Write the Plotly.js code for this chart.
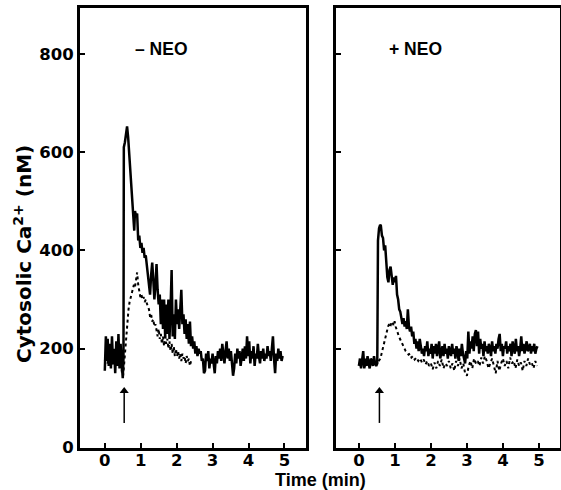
<!DOCTYPE html>
<html>
<head>
<meta charset="utf-8">
<script src="https://cdn.plot.ly/plotly-3.0.1.min.js"></script>
<style>html,body{margin:0;padding:0;background:#fff;}#chart{width:561px;height:490px;}</style>
</head>
<body>
<div id="chart"></div>
<script>
// ---- Data (time in min, cytosolic Ca2+ in nM) ----
const xTicks = [0, 1, 2, 3, 4, 5];
const yTicks = [0, 200, 400, 600, 800];
const panelLabels = ["\u2013 NEO", "+ NEO"];
const yTitle = "Cytosolic Ca<sup>2+</sup> (nM)";
const xTitle = "Time (min)";
const arrowTime = [0.54, 0.57];
const arrowFrom = [49, 49];
const arrowTo = [114, 114];

// -NEO, solid trace
const minusSolidT = [
 0.00,0.03,0.06,0.08,0.11,0.14,0.17,0.20,0.23,0.26,
 0.29,0.32,0.35,0.38,0.41,0.44,0.47,0.50,0.52,0.53,
 0.56,0.60,0.62,0.65,0.68,0.71,0.74,0.77,0.80,0.82,
 0.84,0.87,0.90,0.93,0.96,0.99,1.02,1.05,1.08,1.11,
 1.14,1.17,1.20,1.23,1.26,1.29,1.32,1.35,1.38,1.41,
 1.44,1.47,1.50,1.53,1.56,1.59,1.62,1.65,1.68,1.71,
 1.74,1.77,1.80,1.83,1.86,1.89,1.92,1.95,1.98,2.01,
 2.04,2.07,2.10,2.13,2.16,2.19,2.22,2.25,2.28,2.31,
 2.34,2.37,2.40,2.43,2.46,2.49,2.52,2.55,2.58,2.61,
 2.64,2.67,2.70,2.73,2.76,2.79,2.82,2.85,2.88,2.91,
 2.94,2.97,3.00,3.03,3.06,3.09,3.12,3.15,3.18,3.21,
 3.24,3.27,3.30,3.33,3.36,3.39,3.42,3.45,3.48,3.51,
 3.54,3.57,3.60,3.63,3.66,3.69,3.72,3.75,3.78,3.81,
 3.84,3.87,3.90,3.93,3.96,3.99,4.02,4.05,4.08,4.11,
 4.14,4.17,4.20,4.23,4.26,4.29,4.32,4.35,4.38,4.41,
 4.44,4.47,4.50,4.53,4.56,4.59,4.62,4.65,4.68,4.71,
 4.74,4.77,4.80,4.83,4.86,4.89,4.92,4.95];
const minusSolidV = [
 155,225,175,220,165,210,160,225,170,200,
 150,215,165,230,160,210,170,140,180,610,
 620,645,652,630,600,570,520,510,470,440,
 480,470,475,420,430,405,415,395,405,385,
 390,370,355,330,310,350,375,340,300,330,
 372,320,290,310,250,300,240,300,225,290,
 230,300,220,280,360,225,270,220,300,250,
 280,240,290,320,250,270,230,260,220,250,
 210,255,205,225,200,215,190,205,185,200,
 190,195,175,180,150,155,190,175,195,160,
 180,170,190,165,150,185,170,195,180,200,
 175,210,185,170,195,215,180,200,175,195,
 170,145,160,190,170,200,180,195,165,185,
 200,175,205,180,225,185,215,170,195,180,
 205,165,190,180,210,185,170,195,180,200,
 175,190,180,205,185,195,175,200,225,180,
 150,190,175,200,180,195,175,185];

// -NEO, dotted trace
const minusDotT = [
 0.00,0.04,0.08,0.12,0.16,0.20,0.24,0.28,0.32,0.36,
 0.40,0.44,0.48,0.51,0.54,0.57,0.60,0.63,0.66,0.69,
 0.72,0.75,0.78,0.81,0.84,0.87,0.90,0.93,0.96,0.99,
 1.02,1.05,1.08,1.11,1.14,1.17,1.20,1.23,1.26,1.29,
 1.32,1.35,1.38,1.41,1.44,1.47,1.50,1.53,1.56,1.59,
 1.62,1.65,1.68,1.71,1.74,1.77,1.80,1.83,1.86,1.89,
 1.92,1.95,1.98,2.01,2.04,2.07,2.10,2.13,2.16,2.19,
 2.22,2.25,2.28,2.31,2.34,2.37,2.40];
const minusDotV = [
 175,185,170,190,175,180,165,185,170,180,
 165,175,150,145,170,200,230,260,280,295,
 305,315,320,330,325,340,355,330,315,305,
 310,300,305,295,300,290,285,280,265,270,
 255,260,245,250,235,225,240,220,230,210,
 225,205,230,210,220,200,215,195,210,190,
 205,185,200,185,195,180,190,175,190,180,
 185,170,185,175,180,165,175];

// +NEO, solid trace
const plusSolidT = [
 0.00,0.03,0.06,0.09,0.12,0.15,0.18,0.21,0.24,0.27,
 0.30,0.33,0.36,0.39,0.42,0.45,0.48,0.51,0.53,0.56,
 0.59,0.61,0.64,0.67,0.70,0.73,0.76,0.79,0.82,0.85,
 0.88,0.91,0.94,0.97,1.00,1.03,1.06,1.09,1.12,1.15,
 1.18,1.21,1.24,1.27,1.30,1.33,1.36,1.39,1.42,1.45,
 1.48,1.51,1.54,1.57,1.60,1.63,1.66,1.69,1.72,1.75,
 1.78,1.81,1.84,1.87,1.90,1.93,1.96,1.99,2.02,2.05,
 2.08,2.11,2.14,2.17,2.20,2.23,2.26,2.29,2.32,2.35,
 2.38,2.41,2.44,2.47,2.50,2.53,2.56,2.59,2.62,2.65,
 2.68,2.71,2.74,2.77,2.80,2.83,2.86,2.89,2.92,2.95,
 2.98,3.01,3.04,3.07,3.10,3.13,3.16,3.19,3.22,3.25,
 3.28,3.31,3.34,3.37,3.40,3.43,3.46,3.49,3.52,3.55,
 3.58,3.61,3.64,3.67,3.70,3.73,3.76,3.79,3.82,3.85,
 3.88,3.91,3.94,3.97,4.00,4.03,4.06,4.09,4.12,4.15,
 4.18,4.21,4.24,4.27,4.30,4.33,4.36,4.39,4.42,4.45,
 4.48,4.51,4.54,4.57,4.60,4.63,4.66,4.69,4.72,4.75,
 4.78,4.81,4.84,4.87,4.90,4.93,4.96];
const plusSolidV = [
 165,180,160,175,195,160,180,165,185,170,
 160,180,175,165,185,170,165,170,420,445,
 452,450,430,425,400,410,370,345,335,360,
 367,340,330,345,335,348,310,300,280,275,
 265,250,262,245,256,240,280,245,235,245,
 225,235,210,220,200,215,195,220,205,190,
 200,185,205,195,215,185,200,190,210,180,
 205,190,210,185,200,215,180,195,205,185,
 210,190,200,180,205,195,185,210,190,200,
 180,205,195,175,200,185,210,190,175,170,
 195,180,235,190,215,200,225,195,230,238,
 205,235,190,220,200,210,185,215,195,205,
 190,210,200,185,215,195,205,190,210,200,
 220,230,195,210,185,205,200,215,190,205,
 195,210,185,215,200,190,220,195,205,185,
 200,225,195,210,190,205,215,195,200,210,
 190,205,195,210,190,200,205];

// +NEO, dotted trace
const plusDotT = [
 0.00,0.05,0.10,0.15,0.20,0.25,0.30,0.35,0.40,0.45,
 0.50,0.55,0.60,0.63,0.66,0.69,0.72,0.75,0.78,0.81,
 0.84,0.87,0.90,0.93,0.96,0.99,1.02,1.05,1.08,1.11,
 1.14,1.18,1.22,1.26,1.30,1.34,1.38,1.42,1.46,1.50,
 1.55,1.60,1.65,1.70,1.75,1.80,1.85,1.90,1.95,2.00,
 2.05,2.10,2.15,2.20,2.25,2.30,2.35,2.40,2.45,2.50,
 2.55,2.60,2.65,2.70,2.75,2.80,2.85,2.90,2.95,3.00,
 3.05,3.10,3.15,3.20,3.25,3.30,3.35,3.40,3.45,3.50,
 3.55,3.60,3.65,3.70,3.75,3.80,3.85,3.90,3.95,4.00,
 4.05,4.10,4.15,4.20,4.25,4.30,4.35,4.40,4.45,4.50,
 4.55,4.60,4.65,4.70,4.75,4.80,4.85,4.90,4.95];
const plusDotV = [
 170,165,175,160,170,175,165,170,168,172,
 170,175,180,190,200,210,222,232,240,245,
 250,245,252,255,248,256,245,240,232,225,
 220,212,205,200,195,192,188,190,182,185,
 178,182,175,180,172,178,168,175,165,170,
 158,172,160,175,165,178,160,170,165,175,
 160,170,155,175,165,180,160,170,150,145,
 165,175,160,180,170,175,165,182,170,185,
 175,160,170,180,165,150,175,155,170,180,
 165,175,160,182,170,175,160,178,165,172,
 155,175,165,180,168,172,160,175,165];

// ---- Chart ----
const WIDE = "DejaVu Sans, Verdana, sans-serif";
const NARROW = "Liberation Sans, Arial, Helvetica, sans-serif";
const tickFont = {family: WIDE, size: 16.5, color: "#000", weight: "bold"};
const yTitleFont = {family: WIDE, size: 20, color: "#000", weight: "bold"};
const xTitleFont = {family: NARROW, size: 18, color: "#000", weight: "bold"};
const labelFont = {family: NARROW, size: 17.5, color: "#000", weight: "bold"};

const dotted = {color: "#000", width: 2, dash: "dot"};
const solid = {color: "#000", width: 2.5};

function arrowTraces(i, xa, ya) {
  return [
    {x: [arrowTime[i], arrowTime[i]], y: [arrowFrom[i], arrowTo[i]], xaxis: xa, yaxis: ya,
     mode: "lines", line: {color: "#000", width: 1.5}, hoverinfo: "skip"},
    {x: [arrowTime[i]], y: [arrowTo[i]], xaxis: xa, yaxis: ya, mode: "markers",
     marker: {symbol: "triangle-up", size: 8, color: "#000", line: {width: 0}}, hoverinfo: "skip"}
  ];
}

const traces = [
  {x: minusDotT, y: minusDotV, xaxis: "x", yaxis: "y", mode: "lines", line: dotted, hoverinfo: "skip"},
  {x: minusSolidT, y: minusSolidV, xaxis: "x", yaxis: "y", mode: "lines", line: solid, hoverinfo: "skip"},
  {x: plusDotT, y: plusDotV, xaxis: "x2", yaxis: "y2", mode: "lines", line: dotted, hoverinfo: "skip"},
  {x: plusSolidT, y: plusSolidV, xaxis: "x2", yaxis: "y2", mode: "lines", line: solid, hoverinfo: "skip"}
].concat(arrowTraces(0, "x", "y"), arrowTraces(1, "x2", "y2"));

const W = 561, H = 490;
const yDom = [(H - 448) / H, (H - 8) / H];

function xAxis(dom, rng, anchor) {
  return {domain: dom, range: rng, anchor: anchor, tickvals: xTicks, ticks: "inside", ticklen: 5,
    tickwidth: 2, tickcolor: "#000", showline: true, linewidth: 3, linecolor: "#000", mirror: true,
    showgrid: false, zeroline: false, tickfont: tickFont, fixedrange: true};
}
function yAxis(rng, anchor, labels) {
  return {domain: yDom, range: rng, anchor: anchor, tickvals: yTicks, ticks: "inside", ticklen: 5,
    tickwidth: 2, tickcolor: "#000", showline: true, linewidth: 3, linecolor: "#000", mirror: true,
    showgrid: false, zeroline: false, tickfont: tickFont, showticklabels: labels, fixedrange: true};
}

const layout = {
  width: W, height: H,
  margin: {l: 0, r: 0, t: 0, b: 0},
  paper_bgcolor: "#fff", plot_bgcolor: "#fff",
  showlegend: false,
  xaxis: xAxis([80 / W, 306 / W], [-0.69, 5.60], "y"),
  yaxis: yAxis([-2, 893], "x", true),
  xaxis2: xAxis([336 / W, 560 / W], [-0.636, 5.586], "y2"),
  yaxis2: yAxis([-2, 893], "x2", false),
  annotations: [
    {text: yTitle, xref: "paper", yref: "paper", x: 23 / W, y: (H - 254) / H, textangle: -90,
     showarrow: false, xanchor: "center", yanchor: "middle", font: yTitleFont},
    {text: xTitle, xref: "paper", yref: "paper", x: 320 / W, y: (H - 480) / H,
     showarrow: false, xanchor: "center", yanchor: "middle", font: xTitleFont},
    {text: panelLabels[0], xref: "x", yref: "y", x: 1.59, y: 810, showarrow: false,
     xanchor: "center", yanchor: "middle", font: labelFont},
    {text: panelLabels[1], xref: "x2", yref: "y2", x: 1.56, y: 810, showarrow: false,
     xanchor: "center", yanchor: "middle", font: labelFont}
  ]
};

Plotly.newPlot("chart", traces, layout, {staticPlot: true, displayModeBar: false}).then(function () {
  // lift the x tick labels closer to the axis, as in the printed figure
  document.querySelectorAll("g.xtick text, g.x2tick text").forEach(function (t) {
    const y = parseFloat(t.getAttribute("y"));
    if (!isNaN(y)) t.setAttribute("y", y - 5);
  });
});
</script>
</body>
</html>
